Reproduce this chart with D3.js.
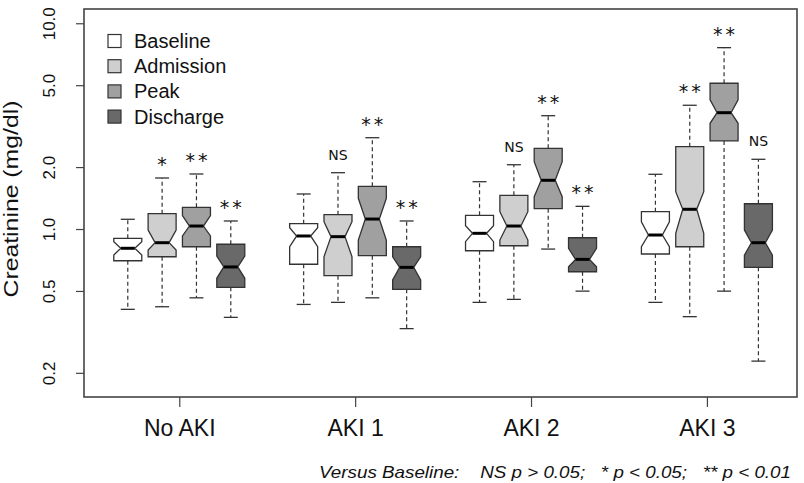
<!DOCTYPE html>
<html>
<head>
<meta charset="utf-8">
<script src="https://cdn.jsdelivr.net/npm/d3@7"></script>
<style>
  body { margin: 0; background: #fff; }
  #chart { width: 804px; height: 483px; }
  text { font-family: "Liberation Sans", Arial, Helvetica, sans-serif; fill: #111; }
</style>
</head>
<body>
<div id="chart"></div>
<script>
var groups = ["No AKI", "AKI 1", "AKI 2", "AKI 3"];
var series = ["Baseline", "Admission", "Peak", "Discharge"];
var fills = ["#ffffff", "#cfcfcf", "#a0a0a0", "#696969"];

// each row: [whisker low, Q1, notch low, median, notch high, Q3, whisker high], one row per group
var baseline = [
    [0.407, 0.701, 0.747, 0.806, 0.868, 0.901, 1.115],
    [0.430, 0.674, 0.820, 0.925, 1.015, 1.061, 1.480],
    [0.440, 0.784, 0.868, 0.953, 1.038, 1.166, 1.698],
    [0.440, 0.756, 0.820, 0.935, 1.085, 1.214, 1.845]
];
var admission = [
    [0.419, 0.733, 0.790, 0.858, 0.989, 1.187, 1.770],
    [0.440, 0.593, 0.733, 0.918, 1.085, 1.174, 1.878],
    [0.455, 0.829, 0.884, 1.034, 1.214, 1.458, 2.053],
    [0.375, 0.820, 0.953, 1.247, 1.518, 2.512, 3.994]
];
var peak = [
    [0.463, 0.820, 0.925, 1.034, 1.161, 1.275, 1.851],
    [0.463, 0.742, 0.884, 1.118, 1.410, 1.613, 2.778],
    [0.799, 1.255, 1.436, 1.725, 2.124, 2.468, 3.554],
    [0.499, 2.679, 3.265, 3.676, 4.240, 5.110, 7.610]
];
var discharge = [
    [0.372, 0.521, 0.576, 0.654, 0.739, 0.843, 1.094],
    [0.328, 0.509, 0.565, 0.651, 0.733, 0.820, 1.094],
    [0.499, 0.620, 0.656, 0.712, 0.806, 0.907, 1.289],
    [0.228, 0.651, 0.747, 0.858, 0.989, 1.327, 2.182]
];
// significance vs baseline, per group, in series order
var signif = [
    ["", "*", "**", "**"],
    ["", "NS", "**", "**"],
    ["", "NS", "**", "**"],
    ["", "**", "**", "NS"]
];
var yTicks = [0.2, 0.5, 1.0, 2.0, 5.0, 10.0];
var footnote = "Versus Baseline:    NS p > 0.05;   * p < 0.05;   ** p < 0.01";

var stats = [baseline, admission, peak, discharge];

var chartDiv = document.getElementById("chart");
var width = 804, height = 483;
var margin = {left: 84, right: 7, top: 9, bottom: 86};

var svg = d3.select(chartDiv).append("svg")
    .attr("width", width)
    .attr("height", height);

var x = d3.scalePoint()
    .domain(groups)
    .range([margin.left, width - margin.right])
    .padding(0.527)
    .align(0.514);

var xSub = d3.scalePoint()
    .domain(series)
    .range([-51.5, 51.5]);

var y = d3.scaleLog()
    .domain([0.1526, 11.73])
    .range([height - margin.bottom, margin.top]);

var boxW = 28;

// build one record per box
var boxes = [];
groups.forEach(function(g, gi) {
    series.forEach(function(s, si) {
        var r = stats[si][gi];
        boxes.push({
            group: g, series: s, si: si,
            lo: r[0], q1: r[1], nlo: r[2], med: r[3], nhi: r[4], q3: r[5], hi: r[6],
            sig: signif[gi][si]
        });
    });
});

function cx(d) { return x(d.group) + xSub(d.series); }

var plot = svg.append("g");

var box = plot.selectAll("g.box")
    .data(boxes)
    .enter().append("g")
    .attr("class", "box");

// whiskers (dashed)
box.append("line")
    .attr("x1", cx).attr("x2", cx)
    .attr("y1", function(d) { return y(d.q3); })
    .attr("y2", function(d) { return y(d.hi); })
    .attr("stroke", "#333").attr("stroke-width", 1.2)
    .attr("stroke-dasharray", "4,3");
box.append("line")
    .attr("x1", cx).attr("x2", cx)
    .attr("y1", function(d) { return y(d.q1); })
    .attr("y2", function(d) { return y(d.lo); })
    .attr("stroke", "#333").attr("stroke-width", 1.2)
    .attr("stroke-dasharray", "4,3");

// staples
["hi", "lo"].forEach(function(k) {
    box.append("line")
        .attr("x1", function(d) { return cx(d) - boxW / 4; })
        .attr("x2", function(d) { return cx(d) + boxW / 4; })
        .attr("y1", function(d) { return y(d[k]); })
        .attr("y2", function(d) { return y(d[k]); })
        .attr("stroke", "#333").attr("stroke-width", 1.3);
});

// notched box
box.append("path")
    .attr("d", function(d) {
        var c = cx(d), l = c - boxW / 2, r = c + boxW / 2;
        var pts = [
            [l, y(d.q1)], [l, y(d.nlo)], [c - boxW / 4, y(d.med)], [l, y(d.nhi)], [l, y(d.q3)],
            [r, y(d.q3)], [r, y(d.nhi)], [c + boxW / 4, y(d.med)], [r, y(d.nlo)], [r, y(d.q1)]
        ];
        return d3.line()(pts) + "Z";
    })
    .attr("fill", function(d) { return fills[d.si]; })
    .attr("stroke", "#333")
    .attr("stroke-width", 1.3)
    .attr("stroke-linejoin", "miter");

// median
box.append("line")
    .attr("x1", function(d) { return cx(d) - boxW / 4; })
    .attr("x2", function(d) { return cx(d) + boxW / 4; })
    .attr("y1", function(d) { return y(d.med); })
    .attr("y2", function(d) { return y(d.med); })
    .attr("stroke", "#000").attr("stroke-width", 3);

// significance labels
box.filter(function(d) { return d.sig !== ""; })
    .append("text")
    .attr("x", function(d) { return cx(d) + (d.sig === "NS" ? 0 : 1.5); })
    .attr("y", function(d) { return y(d.hi) - (d.sig === "NS" ? 13 : 7); })
    .attr("text-anchor", "middle")
    .style("font-family", "'DejaVu Sans', sans-serif")
    .style("font-size", function(d) { return d.sig === "NS" ? "14px" : "19px"; })
    .style("letter-spacing", function(d) { return d.sig === "NS" ? "0px" : "3px"; })
    .attr("fill", "#222")
    .text(function(d) { return d.sig; });

// frame
svg.append("rect")
    .attr("x", margin.left)
    .attr("y", margin.top)
    .attr("width", width - margin.left - margin.right)
    .attr("height", height - margin.top - margin.bottom)
    .attr("fill", "none")
    .attr("stroke", "#444")
    .attr("stroke-width", 1.6);

// y axis
var yAxis = svg.append("g")
    .attr("transform", "translate(" + margin.left + ",0)")
    .call(d3.axisLeft(y).tickValues(yTicks).tickFormat(d3.format(".1f")).tickSize(8).tickPadding(0));
yAxis.select(".domain").remove();
yAxis.selectAll(".tick line").attr("stroke", "#444").attr("stroke-width", 1.2);
yAxis.selectAll(".tick text")
    .attr("x", null).attr("dy", null)
    .attr("text-anchor", "middle")
    .attr("transform", "translate(-29,0) rotate(-90)")
    .style("font-size", "17px")
    .style("font-family", "'Liberation Sans', Arial, sans-serif")
    .attr("fill", "#111");

svg.append("text")
    .attr("transform", "translate(18," + 199 + ") rotate(-90)")
    .attr("text-anchor", "middle")
    .attr("textLength", 197)
    .attr("lengthAdjust", "spacingAndGlyphs")
    .style("font-size", "20px")
    .text("Creatinine (mg/dl)");

// x axis
var xAxis = svg.append("g")
    .attr("transform", "translate(0," + (height - margin.bottom) + ")")
    .call(d3.axisBottom(x).tickSize(10).tickPadding(0));
xAxis.select(".domain").remove();
xAxis.selectAll(".tick line").attr("stroke", "#444").attr("stroke-width", 1.2);
xAxis.selectAll(".tick text")
    .attr("y", 39).attr("dy", null)
    .style("font-size", "23px")
    .style("font-family", "'Liberation Sans', Arial, sans-serif")
    .attr("fill", "#111");

// legend
var legend = svg.append("g").attr("transform", "translate(108,41)");
var li = legend.selectAll("g")
    .data(series)
    .enter().append("g")
    .attr("transform", function(d, i) { return "translate(0," + (i * 25.2) + ")"; });
li.append("rect")
    .attr("x", 0).attr("y", -6.5)
    .attr("width", 13).attr("height", 13)
    .attr("fill", function(d, i) { return fills[i]; })
    .attr("stroke", "#333").attr("stroke-width", 1.2);
li.append("text")
    .attr("x", 26).attr("y", 7)
    .style("font-size", "20px")
    .text(function(d) { return d; });

// footnote
svg.append("text")
    .attr("x", 319).attr("y", 478)
    .attr("textLength", 472)
    .attr("lengthAdjust", "spacingAndGlyphs")
    .style("font-size", "17px")
    .style("font-style", "italic")
    .style("white-space", "pre")
    .text(footnote);
</script>
</body>
</html>
